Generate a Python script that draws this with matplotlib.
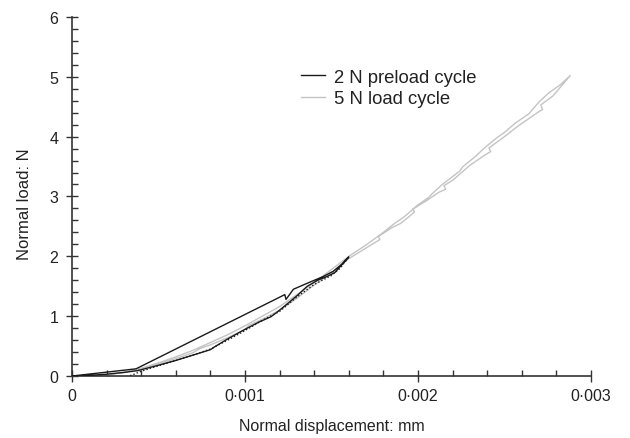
import matplotlib.pyplot as plt
from matplotlib.ticker import MultipleLocator, FuncFormatter

plt.rcParams['font.family'] = ['Liberation Sans', 'DejaVu Sans']

# 2 N preload cycle (black): loading along lower curve, unloading on the upper path
pre_x = [0, 0.0001, 0.0002, 0.0003, 0.00038, 0.0005, 0.0006, 0.0007, 0.0008, 0.00082,
         0.0009, 0.001, 0.00108, 0.00115, 0.0012, 0.00125, 0.0013, 0.00136, 0.00142,
         0.00148, 0.00152, 0.00156, 0.0016,
         0.00156, 0.00151, 0.00145, 0.00136, 0.00128, 0.001237, 0.00123, 0.00037, 0]
pre_y = [0, 0.01, 0.03, 0.06, 0.09, 0.18, 0.26, 0.35, 0.44, 0.48,
         0.62, 0.78, 0.9, 0.99, 1.1, 1.22, 1.34, 1.5, 1.6,
         1.67, 1.73, 1.86, 1.99,
         1.87, 1.75, 1.66, 1.55, 1.45, 1.28, 1.36, 0.12, 0]

# dotted curve (no legend entry)
dot_x = [0, 0.00005, 0.0001, 0.00015, 0.0002, 0.00025, 0.0003, 0.00035, 0.0004, 0.0005,
         0.0006, 0.0007, 0.0008, 0.0009, 0.001, 0.0011, 0.0012, 0.0013, 0.0014, 0.0015,
         0.00155, 0.0016]
dot_y = [0, -0.04, -0.06, -0.067, -0.065, -0.05, -0.03, 0.02, 0.08, 0.17,
         0.26, 0.35, 0.45, 0.6, 0.76, 0.93, 1.08, 1.32, 1.53, 1.68,
         1.8, 1.99]

# 5 N load cycle (grey): loading then unloading
load_x = [0, 0.0001, 0.0002, 0.0003, 0.0004, 0.0005, 0.0006, 0.0007, 0.00074, 0.0008,
          0.0009, 0.001, 0.00102, 0.0011, 0.0012, 0.0013, 0.0014, 0.0015, 0.0016,
          0.0017, 0.00178, 0.00177, 0.00185, 0.0019, 0.00198, 0.00197, 0.00205, 0.00212,
          0.00216, 0.00215, 0.0022, 0.0023, 0.00238, 0.00242, 0.00241, 0.0025, 0.00258,
          0.00264, 0.0027, 0.00272, 0.00271, 0.00278, 0.00288,
          0.00282, 0.00276, 0.0027, 0.00264, 0.00262, 0.00256, 0.0025, 0.00246, 0.0024,
          0.00232, 0.00226, 0.00224, 0.00214, 0.00208, 0.00206, 0.002, 0.00192, 0.00186,
          0.0018, 0.0017, 0.0016, 0.0015, 0.0014, 0.0013, 0.0012, 0.0011, 0.001,
          0.0009, 0.0008, 0.0007, 0.0006, 0.0005, 0.0004, 0.0003, 0.0002, 0.0001, 0]
load_y = [0, 0.0, 0.02, 0.06, 0.12, 0.2, 0.29, 0.39, 0.46, 0.52,
          0.64, 0.78, 0.84, 0.95, 1.1, 1.3, 1.52, 1.72, 1.96,
          2.14, 2.28, 2.33, 2.48, 2.55, 2.74, 2.79, 2.93, 3.07,
          3.12, 3.18, 3.27, 3.52, 3.68, 3.75, 3.81, 4.0, 4.18,
          4.3, 4.42, 4.45, 4.53, 4.68, 5.02,
          4.86, 4.74, 4.58, 4.38, 4.34, 4.22, 4.07, 3.99, 3.85,
          3.64, 3.5, 3.42, 3.2, 3.04, 2.98, 2.86, 2.66, 2.54,
          2.4, 2.19, 2.0, 1.78, 1.56, 1.36, 1.16, 1.0, 0.84,
          0.69, 0.56, 0.43, 0.32, 0.22, 0.13, 0.06, 0.02, 0.0, 0]

fig = plt.figure(figsize=(6.3, 4.39), dpi=100)
ax = fig.add_axes([0.1143, 0.1412, 0.8238, 0.818])

l_load, = ax.plot(load_x, load_y, color='#c4c4c4', lw=1.0, label='5 N load cycle', zorder=2)
ax.plot(dot_x, dot_y, color='#222222', lw=1.0, ls=(0, (1, 1.5)), zorder=3)
l_pre, = ax.plot(pre_x, pre_y, color='#1a1a1a', lw=1.0, label='2 N preload cycle', zorder=4)

ax.set_xlim(0, 0.003)
ax.set_ylim(0, 6)
ax.xaxis.set_major_locator(MultipleLocator(0.001))
ax.xaxis.set_minor_locator(MultipleLocator(0.0002))
ax.yaxis.set_major_locator(MultipleLocator(1))
ax.yaxis.set_minor_locator(MultipleLocator(0.2))

def fmt(v, pos):
    if abs(v) < 1e-12:
        return '0'
    return ('%.3f' % v).replace('.', '\u00b7')

ax.xaxis.set_major_formatter(FuncFormatter(fmt))

for s in ['top', 'right']:
    ax.spines[s].set_visible(False)
for s in ['left', 'bottom']:
    ax.spines[s].set_linewidth(1.2)
    ax.spines[s].set_color('#333333')

ax.tick_params(which='major', direction='inout', length=8.5, width=1.0, color='#333333',
               labelsize=11.5, labelcolor='#222222')
ax.tick_params(which='minor', direction='in', length=4.3, width=1.0, color='#333333')
ax.tick_params(axis='y', which='major', pad=5.5)
ax.tick_params(axis='x', which='major', pad=4.3)

ax.set_xlabel('Normal displacement: mm', fontsize=11.5, color='#222222', labelpad=11)
ax.set_ylabel('Normal load: N', fontsize=12, color='#222222', labelpad=12)
ax.yaxis.set_label_coords(-0.078, 0.48)

ax.legend([l_pre, l_load], ['2 N preload cycle', '5 N load cycle'],
          loc='upper left', bbox_to_anchor=(0.451, 0.879), bbox_transform=fig.transFigure,
          frameon=False, fontsize=13.3, handlelength=1.3, handletextpad=0.5,
          labelspacing=0.25, labelcolor='#222222')

fig.savefig('out.png', dpi=100)
